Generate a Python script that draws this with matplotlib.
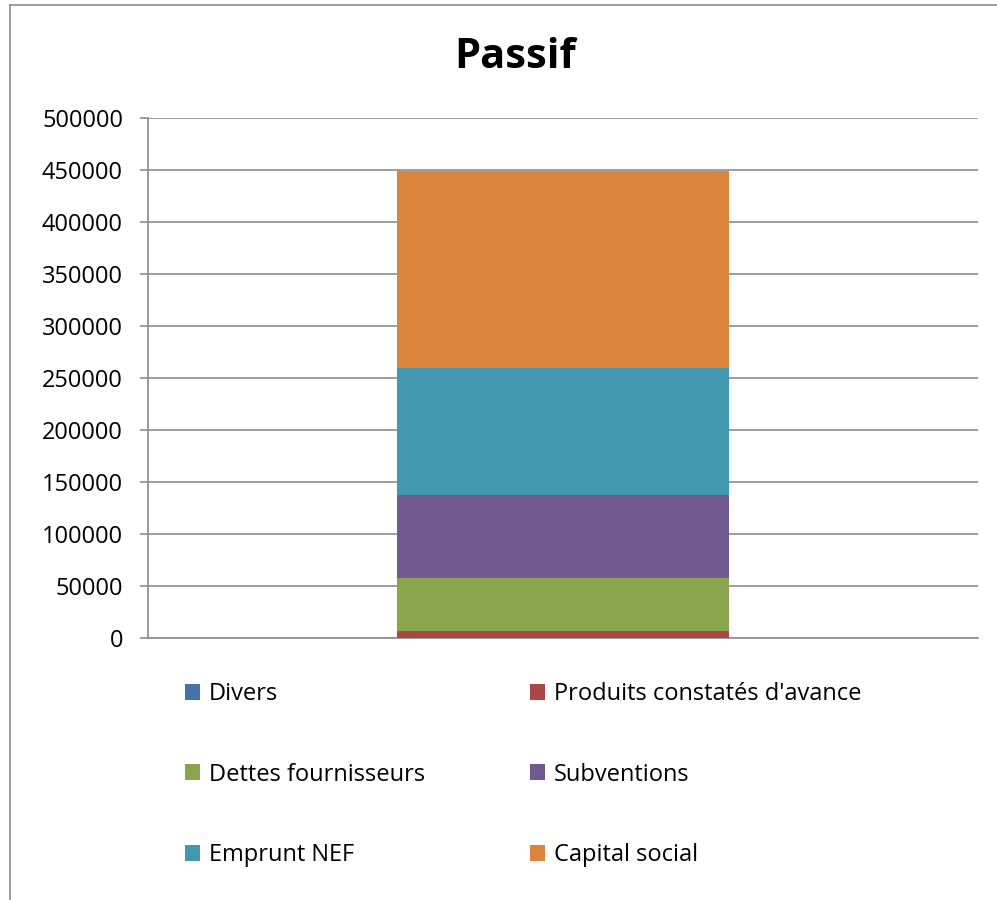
import matplotlib.pyplot as plt
from matplotlib.lines import Line2D
import numpy as np

plt.rcParams['font.family'] = ['Open Sans', 'DejaVu Sans']

# données du passif (empilées du bas vers le haut)
postes = ['Divers', "Produits constatés d'avance", 'Dettes fournisseurs',
          'Subventions', 'Emprunt NEF', 'Capital social']
montants = [0, 7000, 51300, 79500, 121800, 188800]
couleurs = ['#4572A7', '#AA4643', '#89A54E', '#71588F', '#4198AF', '#DB843D']
yticks = [0, 50000, 100000, 150000, 200000, 250000, 300000, 350000, 400000, 450000, 500000]

W, H = 997, 900
fig = plt.figure(figsize=(W / 100, H / 100), dpi=100)
ax = fig.add_axes([148 / W, 1 - 638.3 / H, 830 / W, 520.6 / H])

bas = 0
barres = []
for nom, val, c in zip(postes, montants, couleurs):
    b = ax.bar(0, val, width=0.4, bottom=bas, color=c, label=nom, zorder=3)
    barres.append(b)
    bas += val

ax.set_xlim(-0.5, 0.5)
ax.set_ylim(0, 500000)
ax.set_yticks(yticks)
ax.set_yticklabels([str(v) for v in yticks], fontsize=17)
ax.set_xticks([])
ax.grid(axis='y', color='#8c8c8c', linewidth=1.2, zorder=0)
for s in ['top', 'right']:
    ax.spines[s].set_visible(False)
ax.spines['left'].set_color('#8c8c8c')
ax.spines['left'].set_linewidth(1.2)
ax.spines['bottom'].set_color('#8c8c8c')
ax.spines['bottom'].set_linewidth(1.2)
ax.tick_params(axis='y', length=6, width=1.2, color='#8c8c8c', pad=12)

fig.text(515 / W, 1 - 58 / H, 'Passif', fontsize=30, fontweight='bold',
         ha='center', va='center')

# légende sur deux colonnes
col1 = [0, 2, 4]
col2 = [1, 3, 5]
for idx, x0 in [(col1, 185), (col2, 530)]:
    fig.legend([barres[i] for i in idx], [postes[i] for i in idx],
               loc='upper left', bbox_to_anchor=(x0 / W, 1 - 682 / H),
               frameon=False, fontsize=17, handlelength=0.65, handleheight=0.65,
               handletextpad=0.35, labelspacing=2.4, borderpad=0, borderaxespad=0)

# cadre du graphique
fig.add_artist(Line2D([10 / W, 10 / W], [0, 1 - 5 / H], color='#8c8c8c', linewidth=1.2))
fig.add_artist(Line2D([10 / W, 1], [1 - 5 / H, 1 - 5 / H], color='#8c8c8c', linewidth=1.2))

fig.savefig('out.png', dpi=100)
